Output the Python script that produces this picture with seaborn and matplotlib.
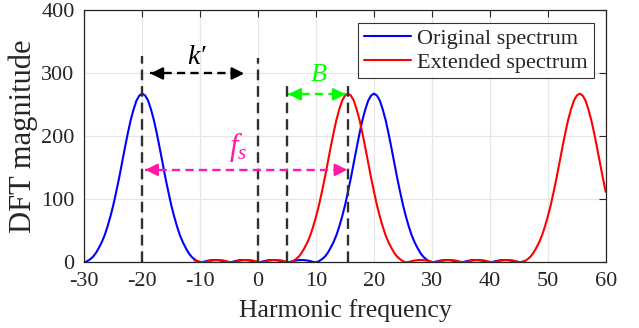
import numpy as np
import pandas as pd
import matplotlib
matplotlib.use("Agg")
import matplotlib.pyplot as plt
import seaborn as sns

# sample grids (step 0.5)
blue_x = np.arange(-30, 46.01, 0.5)
red_x = np.arange(-11, 60.01, 0.5)

# DFT magnitudes
blue_mag = [
    0, 2, 5, 9, 15, 23, 32, 43, 57, 73, 91, 112, 134, 158, 182, 205, 226, 243, 257, 265, 268,
    265, 257, 243, 226, 205, 182, 158, 134, 112, 91, 73, 57, 43, 32, 23, 15, 9, 5, 2, 0,
    0.8, 2, 3, 3.6, 3.8, 3.6, 3, 2, 0.8, 0,
    0.8, 2, 3, 3.6, 3.8, 3.6, 3, 2, 0.8, 0,
    0.8, 2, 3, 3.6, 3.8, 3.6, 3, 2, 0.8, 0,
    0.8, 2, 3, 3.6, 3.8, 3.6, 3, 2, 0.8, 0,
    2, 5, 9, 15, 23, 32, 43, 57, 73, 91, 112, 134, 158, 182, 205, 226, 243, 257, 265, 268,
    265, 257, 243, 226, 205, 182, 158, 134, 112, 91, 73, 57, 43, 32, 23, 15, 9, 5, 2, 0,
    0.8, 2, 3, 3.6, 3.8, 3.6, 3, 2, 0.8, 0,
    0.8, 2, 3, 3.6, 3.8, 3.6, 3, 2, 0.8, 0,
    0.8, 2, 3, 3.6, 3.8, 3.6, 3, 2, 0.8, 0,
    0.8, 2,
]
red_mag = [
    3, 2, 0.8, 0,
    0.8, 2, 3, 3.6, 3.8, 3.6, 3, 2, 0.8, 0,
    0.8, 2, 3, 3.6, 3.8, 3.6, 3, 2, 0.8, 0,
    0.8, 2, 3, 3.6, 3.8, 3.6, 3, 2, 0.8, 0,
    2, 5, 9, 15, 23, 32, 43, 57, 73, 91, 112, 134, 158, 182, 205, 226, 243, 257, 265, 268,
    265, 257, 243, 226, 205, 182, 158, 134, 112, 91, 73, 57, 43, 32, 23, 15, 9, 5, 2, 0,
    0.8, 2, 3, 3.6, 3.8, 3.6, 3, 2, 0.8, 0,
    0.8, 2, 3, 3.6, 3.8, 3.6, 3, 2, 0.8, 0,
    0.8, 2, 3, 3.6, 3.8, 3.6, 3, 2, 0.8, 0,
    0.8, 2, 3, 3.6, 3.8, 3.6, 3, 2, 0.8, 0,
    2, 5, 9, 15, 23, 32, 43, 57, 73, 91, 112, 134, 158, 182, 205, 226, 243, 257, 265, 268,
    265, 257, 243, 226, 205, 182, 158, 134, 112,
]

series_names = ["Original spectrum", "Extended spectrum"]
series_colors = ["#0000ff", "#ff0000"]

# annotation values
vlines_x = [-20, 0, 5, 15.5]
vlines_top = [327, 325, 285, 285]
k_arrow = (-18.6, -2.4, 300)
b_arrow = (5.2, 15.1, 267)
fs_arrow = (-19.5, 15.4, 147)

x_ticks = [-30, -20, -10, 0, 10, 20, 30, 40, 50, 60]
y_ticks = [0, 100, 200, 300, 400]

df = pd.concat([
    pd.DataFrame({"freq": blue_x, "mag": blue_mag, "series": series_names[0]}),
    pd.DataFrame({"freq": red_x, "mag": red_mag, "series": series_names[1]}),
])

sns.set_style("white")
plt.rcParams["font.family"] = ["Liberation Serif", "DejaVu Serif"]
plt.rcParams["axes.unicode_minus"] = False
plt.rcParams["mathtext.fontset"] = "custom"
plt.rcParams["mathtext.it"] = "Liberation Serif:italic"
plt.rcParams["mathtext.rm"] = "Liberation Serif"

fig = plt.figure(figsize=(6.39, 3.28), dpi=100)
ax = fig.add_axes([0.132, 0.200, 0.816, 0.768])

ax.grid(True, color="#e6e6e6", linewidth=0.9, zorder=0)
ax.set_axisbelow(True)

sns.lineplot(data=df, x="freq", y="mag", hue="series", palette=dict(zip(series_names, series_colors)),
             sort=False, estimator=None, linewidth=1.5, ax=ax, zorder=3)

# vertical dashed markers
for xv, top in zip(vlines_x, vlines_top):
    ax.plot([xv, xv], [0, top], color="#303030", linestyle=(0, (4.5, 2.5)), linewidth=1.7, zorder=4)


def dashed_double_arrow(x0, x1, y, color):
    ax.plot([x0, x1], [y, y], color=color, linestyle=(0, (3.5, 2.2)), linewidth=1.7, zorder=5)
    for tip, tail in ((x0, x0 + 1.8), (x1, x1 - 1.8)):
        ax.annotate("", xy=(tip, y), xytext=(tail, y),
                    arrowprops=dict(arrowstyle="-|>", color=color, lw=1.7,
                                    mutation_scale=18, shrinkA=0, shrinkB=0), zorder=5)


dashed_double_arrow(*k_arrow, "black")
dashed_double_arrow(*b_arrow, "#00ff00")
dashed_double_arrow(*fs_arrow, "#ff19a6")

ax.text(-10.6, 326, "k\u2032", fontsize=20, fontstyle="italic", ha="center", va="center", color="black")
ax.text(10.5, 297, "B", fontsize=19, fontstyle="italic", ha="center", va="center", color="#00ff00")
ax.text(-3.5, 183, r"$f_s$", fontsize=22, ha="center", va="center", color="#ff19a6")

ax.set_xlim(-30, 60)
ax.set_ylim(0, 400)
ax.set_xticks(x_ticks)
ax.set_yticks(y_ticks)
ax.tick_params(direction="in", length=5, width=0.8, top=True, right=True, labelsize=16, color="#262626", pad=7)
for s in ax.spines.values():
    s.set_color("#262626")
    s.set_linewidth(0.9)

ax.set_xlabel("Harmonic frequency", fontsize=18.5, labelpad=6)
ax.set_ylabel("DFT magnitude", fontsize=22, labelpad=2)

leg = ax.legend(loc="upper right", fontsize=16, frameon=True, fancybox=False, edgecolor="black",
                handlelength=2.1, borderpad=0.25, labelspacing=0.15, handletextpad=0.3,
                borderaxespad=0.55)
leg.get_frame().set_linewidth(0.8)
leg.set_title(None)

fig.savefig("out.png", dpi=100)
